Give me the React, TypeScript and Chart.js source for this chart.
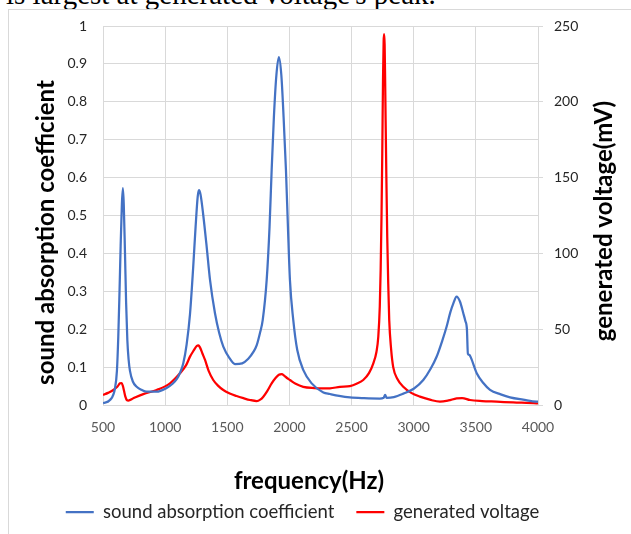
import { useEffect, useRef } from "react";
import { Chart, registerables } from "chart.js";

Chart.register(...registerables);

const absorptionFreq = [
  500, 556, 597, 612, 623, 633, 642, 652, 660, 667, 677, 686, 696, 706, 717, 740, 771, 810, 851, 932,
  1012, 1060, 1093, 1120, 1146, 1173, 1200, 1225, 1245, 1262, 1272, 1285, 1307, 1334, 1361, 1401, 1435,
  1468, 1515, 1562, 1620, 1669, 1710, 1737, 1763, 1785, 1817, 1840, 1857, 1875, 1895, 1915, 1935, 1953,
  1972, 1988, 2004, 2031, 2063, 2112, 2179, 2273, 2326, 2400, 2487, 2600, 2727, 2758, 2770, 2782, 2840,
  2916, 3000, 3077, 3135, 3185, 3230, 3265, 3295, 3319, 3345, 3372, 3399, 3415, 3428, 3436, 3448, 3460,
  3507, 3560, 3614, 3700, 3775, 3880, 3989, 4000,
];
const absorptionValues = [
  0.005, 0.013, 0.045, 0.09, 0.18, 0.3, 0.42, 0.53, 0.572, 0.53, 0.4, 0.27, 0.17, 0.12, 0.09, 0.062,
  0.048, 0.04, 0.035, 0.035, 0.045, 0.056, 0.068, 0.085, 0.11, 0.16, 0.24, 0.36, 0.47, 0.55, 0.567,
  0.555, 0.5, 0.418, 0.33, 0.242, 0.19, 0.154, 0.125, 0.108, 0.11, 0.122, 0.14, 0.158, 0.19, 0.224,
  0.33, 0.47, 0.62, 0.76, 0.87, 0.918, 0.87, 0.76, 0.62, 0.47, 0.33, 0.224, 0.145, 0.092, 0.057, 0.033,
  0.029, 0.024, 0.02, 0.018, 0.017, 0.019, 0.027, 0.019, 0.021, 0.03, 0.043, 0.066, 0.095, 0.128, 0.17,
  0.207, 0.245, 0.268, 0.286, 0.273, 0.242, 0.222, 0.2, 0.135, 0.132, 0.125, 0.084, 0.058, 0.04, 0.028,
  0.02, 0.014, 0.009, 0.009,
];

const voltageFreq = [
  500, 540, 583, 615, 637, 650, 660, 670, 680, 692, 704, 744, 824, 932, 1039, 1119, 1170, 1200, 1230,
  1254, 1268, 1280, 1300, 1321, 1350, 1387, 1425, 1468, 1520, 1575, 1630, 1683, 1737, 1765, 1790, 1820,
  1857, 1890, 1915, 1938, 1960, 1980, 2004, 2050, 2111, 2200, 2272, 2326, 2406, 2487, 2540, 2594, 2640,
  2675, 2700, 2715, 2727, 2734, 2741, 2747, 2753, 2758, 2762, 2766, 2770, 2774, 2780, 2787, 2795, 2803,
  2818, 2835, 2870, 2916, 2980, 3050, 3130, 3211, 3280, 3345, 3390, 3453, 3550, 3667, 3800, 3989, 4000,
];
const voltageValues = [
  6.6, 8, 9.9, 12, 14.3, 14.5, 12.5, 9, 5.5, 3.2, 2.9, 4.4, 7.2, 9.9, 14.3, 20.9, 26.5, 31.9, 36, 38.9,
  39.3, 38, 34, 29.7, 22.5, 16.5, 12.8, 9.9, 7.6, 5.9, 4.5, 3.3, 2.6, 3.5, 5.5, 9, 14.3, 18, 20, 20.4,
  19.2, 17.8, 16.5, 14, 12, 11.2, 11, 11, 12, 12.5, 14, 16.5, 21, 27.5, 35, 45, 65, 89, 125, 166, 215,
  240, 244.7, 238, 215, 188, 150, 111, 80, 56, 37, 25, 17, 12, 8, 5.5, 3.5, 2.2, 3, 4.4, 4.6, 3.3, 2.6,
  2.2, 1.7, 1.1, 1.0,
];

const seriesNames = ["sound absorption coefficient", "generated voltage"];
const axisTitles = ["frequency(Hz)", "sound absorption coefficient", "generated voltage(mV)"];
const captionText = "is largest at generated voltage's peak.";

const TITLE_FONT = "bold 24px Lato";

const axisTitlePlugin = {
  id: "customAxisTitles",
  afterDraw(chart: any) {
    const { ctx, chartArea, scales } = chart;
    const midY = (chartArea.top + chartArea.bottom) / 2;
    ctx.save();
    ctx.fillStyle = "#000";
    ctx.font = TITLE_FONT;
    ctx.textAlign = "center";
    ctx.textBaseline = "middle";
    // x-axis title
    ctx.fillText(axisTitles[0], (chartArea.left + chartArea.right) / 2 - 11.5, chartArea.bottom + 76);
    // left y-axis title (reads bottom to top)
    ctx.save();
    ctx.translate(scales.y.left + 46, midY + 17);
    ctx.rotate(-Math.PI / 2);
    ctx.fillText(axisTitles[1], 0, 0);
    ctx.restore();
    // right y-axis title (also reads bottom to top)
    ctx.save();
    ctx.translate(scales.y1.left + 66, midY + 5.5);
    ctx.rotate(-Math.PI / 2);
    ctx.fillText(axisTitles[2], 0, 0);
    ctx.restore();
    ctx.restore();
  },
};

export default function App() {
  const ref = useRef<HTMLCanvasElement>(null);

  useEffect(() => {
    const canvas = ref.current;
    if (!canvas) return;
    const chart = new Chart(canvas, {
      type: "line",
      data: {
        datasets: [
          {
            label: seriesNames[0],
            data: absorptionFreq.map((x, i) => ({ x, y: absorptionValues[i] })),
            borderColor: "#4472C4",
            backgroundColor: "#4472C4",
            borderWidth: 2.25,
            pointRadius: 0,
            cubicInterpolationMode: "monotone",
            yAxisID: "y",
          },
          {
            label: seriesNames[1],
            data: voltageFreq.map((x, i) => ({ x, y: voltageValues[i] })),
            borderColor: "#FF0000",
            backgroundColor: "#FF0000",
            borderWidth: 2.25,
            pointRadius: 0,
            cubicInterpolationMode: "monotone",
            yAxisID: "y1",
          },
        ],
      },
      plugins: [axisTitlePlugin],
      options: {
        responsive: false,
        animation: false,
        events: [],
        layout: { padding: { left: 0, right: 26, top: 26, bottom: 2.75 } },
        plugins: {
          tooltip: { enabled: false },
          legend: {
            position: "bottom",
            labels: {
              usePointStyle: true,
              pointStyle: "line",
              pointStyleWidth: 28,
              font: { family: "Lato", size: 18.5 },
              color: "#262626",
              padding: 22,
            },
          },
        },
        scales: {
          x: {
            type: "linear",
            min: 500,
            max: 4000,
            ticks: {
              stepSize: 500,
              callback: (v: any) => String(v),
              color: "#595959",
              font: { family: "Lato", size: 14 },
              padding: 14,
              maxRotation: 0,
              autoSkip: false,
            },
            grid: { color: "#d9d9d9", drawTicks: false },
            border: { color: "#d9d9d9" },
            title: { display: false },
            afterFit: (s: any) => {
              s.height = 534 - 2.75 - 50.5 - 405;
            },
          },
          y: {
            position: "left",
            min: 0,
            max: 1,
            ticks: {
              stepSize: 0.1,
              callback: (v: any) => String(Math.round(Number(v) * 10) / 10),
              color: "#262626",
              font: { family: "Lato", size: 14 },
              padding: 16,
            },
            grid: { color: "#d9d9d9", drawTicks: false },
            border: { color: "#d9d9d9" },
            title: { display: false },
            afterFit: (s: any) => {
              s.width = 103;
            },
          },
          y1: {
            position: "right",
            min: 0,
            max: 250,
            ticks: {
              stepSize: 50,
              color: "#262626",
              font: { family: "Lato", size: 14 },
              padding: 11,
            },
            grid: { color: "#d9d9d9", drawOnChartArea: false, tickLength: 5 },
            border: { color: "#d9d9d9" },
            title: { display: false },
            afterFit: (s: any) => {
              s.width = 67;
            },
          },
        },
      },
    } as any);
    return () => chart.destroy();
  }, []);

  return (
    <div
      style={{
        position: "absolute",
        left: 0,
        top: 0,
        width: 631,
        height: 534,
        overflow: "hidden",
        background: "#fff",
      }}
    >
      <div
        style={{
          position: "absolute",
          left: 6,
          top: -20,
          fontFamily: "'Liberation Serif', 'Times New Roman', serif",
          fontSize: 29,
          lineHeight: "29px",
          whiteSpace: "nowrap",
          color: "#000",
        }}
      >
        {captionText}
      </div>
      <div
        style={{
          position: "absolute",
          left: 8,
          top: 9,
          width: 700,
          height: 600,
          border: "1px solid #d9d9d9",
          boxSizing: "border-box",
        }}
      />
      <canvas
        ref={ref}
        width={631}
        height={534}
        style={{ position: "absolute", left: 0, top: 0, width: 631, height: 534 }}
      />
    </div>
  );
}
